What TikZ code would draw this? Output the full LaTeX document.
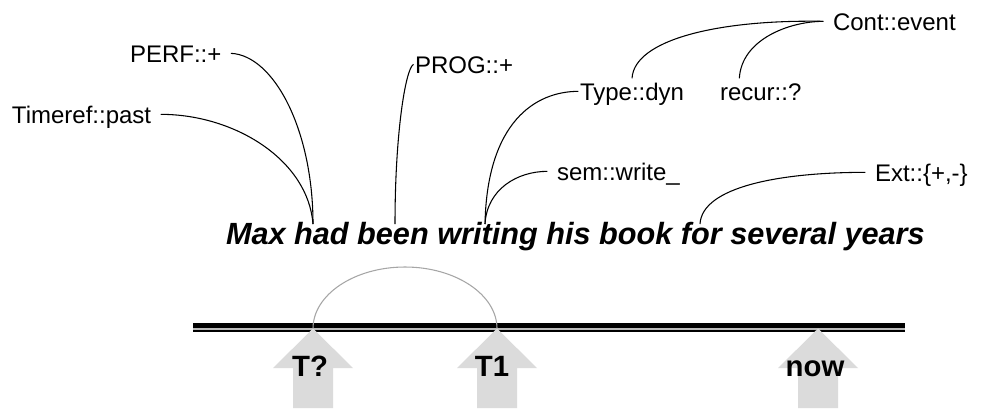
\documentclass[tikz,border=0pt]{standalone}
\usepackage{fontspec}
\setmainfont{Liberation Sans}
\usepackage{tikz}

\tikzset{
  lbl/.style = {font=\fontsize{18}{20}\selectfont, inner xsep=7pt, inner ysep=3pt,
                text height=13pt, text depth=0pt},
  sentence/.style = {font=\fontsize{23}{26}\selectfont\bfseries\itshape, inner sep=0pt},
  tlabel/.style = {font=\fontsize{22}{26}\selectfont\bfseries, inner sep=0pt},
  link/.style = {line width=0.8pt},
  blockarrow/.style = {fill=gray!28},
}

\begin{document}
\begin{tikzpicture}[x=0.75pt, y=-0.75pt]
	\useasboundingbox (0,0) rectangle (984,408);

	% the sentence and where the features attach
	\node[sentence, anchor=text] (sent) at (226,244) {Max had been writing his book for several years};
	\coordinate (had) at (313,224);
	\coordinate (been) at (395,224);
	\coordinate (wri) at (485,224);
	\coordinate (for) at (700,224);

	% feature labels
	\node[lbl, anchor=text] (tim) at (12,123) {Timeref::past};
	\node[lbl, anchor=text] (perf) at (130,62) {PERF::+};
	\node[lbl, anchor=text, inner xsep=1pt] (prog) at (415,73) {PROG::+};
	\node[lbl, anchor=text, inner xsep=1pt] (typ) at (580,100) {Type::dyn};
	\node[lbl, anchor=text] (recur) at (720,100) {recur::?};
	\node[lbl, anchor=text] (sem) at (557,180) {sem::write\_};
	\node[lbl, anchor=text] (cont) at (833,30) {Cont::event};
	\node[lbl, anchor=text] (ext) at (875,181) {Ext::\{+,-\}};

	\begin{scope}[link]
		\draw (tim.east) .. controls +(74,0) and +(-5,-64) .. (had);
		\draw (perf.east) .. controls +(43,2) and +(0,-94) .. (had);
		\draw (prog.west) .. controls +(-8,5) and +(0,-90) .. (been);
		\draw (typ.west) .. controls +(-43,0) and +(2,-102) .. (wri);
		\draw (sem.west) .. controls +(-30,0) and +(2,-35) .. (wri);
		\draw (cont.west) .. controls +(-104,-2) and +(2,-39) .. (typ.north);
		\draw (cont.west) .. controls +(-34,0) and +(2,-39) .. ([xshift=-16pt]recur.north);
		\draw (ext.west) .. controls +(-86,0) and +(2,-37) .. (for);
	\end{scope}

	% time line
	\coordinate (tl) at (193,325.8);
	\coordinate (tr) at (905,325.8);
	\draw[line width=3.75pt] (tl) -- (tr);
	\draw[line width=1.5pt, gray!55] ([yshift=-2.6pt]tl) -- ([yshift=-2.6pt]tr);
	\draw[line width=1.5pt] ([yshift=-4.1pt]tl) -- ([yshift=-4.1pt]tr);

	\coordinate (tq) at (313,328.5);
	\coordinate (t1) at (497,328.5);
	\coordinate (tnow) at (818,328.5);

	% span from T? to T1
	\draw[gray!70, line width=0.8pt] (tq) .. controls (313,294.8) and (354.2,267) .. (405,267)
		.. controls (455.8,267) and (497,294.8) .. (t1);

	% arrows
	\fill[blockarrow] (tq) -- ++(40,39.5) -- ++(-20,0) -- ++(0,40) -- ++(-40,0) -- ++(0,-40) -- ++(-20,0) -- cycle;
	\fill[blockarrow] (t1) -- ++(40,39.5) -- ++(-20,0) -- ++(0,40) -- ++(-40,0) -- ++(0,-40) -- ++(-20,0) -- cycle;
	\fill[blockarrow] (tnow) -- ++(40,39.5) -- ++(-20,0) -- ++(0,40) -- ++(-40,0) -- ++(0,-40) -- ++(-20,0) -- cycle;

	\node[tlabel, anchor=base] (lq) at (310,376) {T?};
	\node[tlabel, anchor=base] (l1) at (492,376) {T1};
	\node[tlabel, anchor=base] (lnow) at (815,376) {now};
\end{tikzpicture}
\end{document}
